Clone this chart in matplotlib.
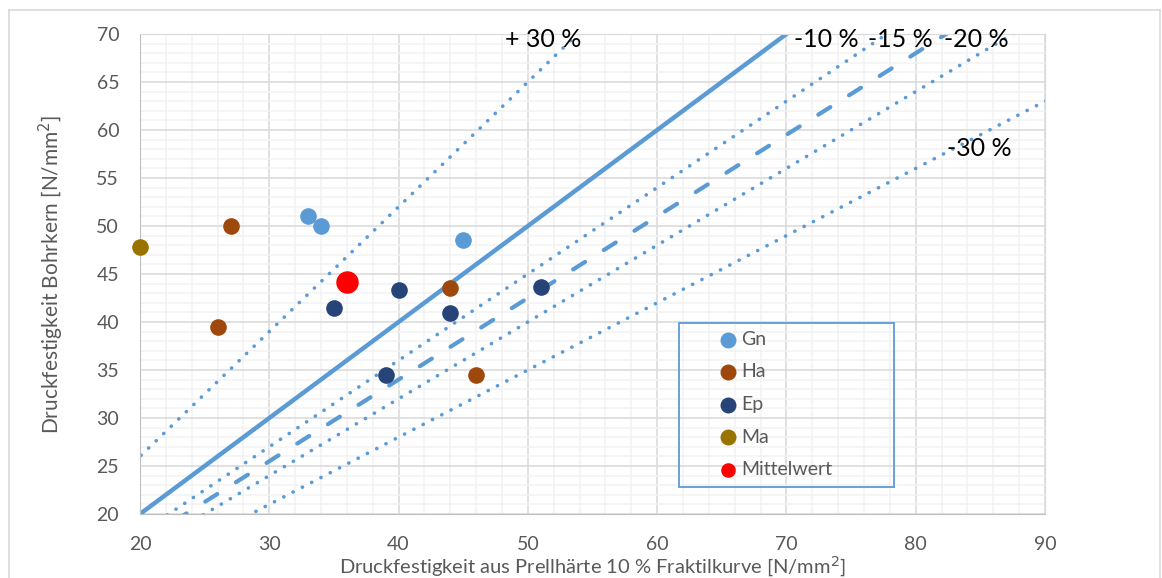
import numpy as np
import matplotlib.pyplot as plt
from matplotlib.patches import Rectangle
from matplotlib.lines import Line2D

plt.rcParams["font.family"] = ["Lato", "DejaVu Sans"]

# measured points (x: Prellhaerte 10 % Fraktil, y: Bohrkern)
gn_x = [33, 34, 45]
gn_y = [51.0, 50.0, 48.5]
ha_x = [27, 26, 44, 46]
ha_y = [50.0, 39.5, 43.5, 34.5]
ep_x = [35, 40, 44, 39, 51]
ep_y = [41.5, 43.3, 40.9, 34.5, 43.6]
ma_x = [20]
ma_y = [47.8]
mw_x = [36]
mw_y = [44.2]

# reference lines y = factor * x
line_factors = [1.3, 1.0, 0.9, 0.85, 0.8, 0.7]
line_styles = ["dot", "solid", "dot", "dash", "dot", "dot"]
line_x = [0, 100]

labels = ["+ 30 %", "-10 %", "-15 %", "-20 %", "-30 %"]
label_x = [48.2, 70.6, 76.3, 82.2, 82.4]
label_y = [69.4, 69.4, 69.4, 69.4, 58.1]

blue = "#5B9BD5"
grey_txt = "#595959"

fig = plt.figure(figsize=(11.62, 5.78), dpi=100)
ax = fig.add_axes([140 / 1162, 1 - 514 / 578, 905 / 1162, 480 / 578])

# outer chart frame (bottom is cut off in the original)
for xs, ys in [([9, 9], [578, 10]), ([9, 1160], [10, 10]), ([1160, 1160], [10, 578])]:
    fig.add_artist(Line2D([x / 1162 for x in xs], [1 - y / 578 for y in ys],
                          color="#D9D9D9", lw=1.2))

lx = np.array(line_x, dtype=float)
for f, st in zip(line_factors, line_styles):
    if st == "solid":
        ax.plot(lx, f * lx, color=blue, lw=3.2, solid_capstyle="butt", zorder=2)
    elif st == "dash":
        ax.plot(lx, f * lx, color=blue, lw=3.0, linestyle=(0, (3.4, 5.3)),
                dash_capstyle="round", zorder=2)
    else:
        ax.plot(lx, f * lx, color=blue, lw=2.6, linestyle=(0, (0.05, 2.85)),
                dash_capstyle="round", zorder=2)

ax.scatter(gn_x, gn_y, s=120, color="#5B9BD5", label="Gn", zorder=4, clip_on=False)
ax.scatter(ha_x, ha_y, s=120, color="#9E480E", label="Ha", zorder=4, clip_on=False)
ax.scatter(ep_x, ep_y, s=120, color="#264478", label="Ep", zorder=4, clip_on=False)
ax.scatter(ma_x, ma_y, s=120, color="#997300", label="Ma", zorder=4, clip_on=False)
ax.scatter(mw_x, mw_y, s=230, color="#FF0000", label="Mittelwert", zorder=5, clip_on=False)

for t, x, y in zip(labels, label_x, label_y):
    ax.text(x, y, t, fontsize=18, color="black", va="center", ha="left", zorder=6)

ax.set_xlim(20, 90)
ax.set_ylim(20, 70)
ax.set_xticks(np.arange(20, 91, 10))
ax.set_yticks(np.arange(20, 71, 5))
ax.set_xticks(np.arange(20, 91, 2), minor=True)
ax.set_yticks(np.arange(20, 71, 1), minor=True)
ax.grid(which="major", color="#D9D9D9", lw=1.1, zorder=0)
ax.grid(which="minor", color="#F2F2F2", lw=1.1, zorder=0)
ax.set_axisbelow(True)
ax.tick_params(which="both", length=0, labelsize=14, labelcolor=grey_txt)
ax.tick_params(axis="x", pad=16)
ax.tick_params(axis="y", pad=15)
for side in ["left", "bottom"]:
    ax.spines[side].set_color("#BFBFBF")
for side in ["top", "right"]:
    ax.spines[side].set_color("#D9D9D9")

ax.set_xlabel("Druckfestigkeit aus Prellhärte 10 % Fraktilkurve [N/mm$^2$]",
              fontsize=14.5, color=grey_txt, labelpad=1)
ax.set_ylabel("Druckfestigkeit Bohrkern [N/mm$^2$]", fontsize=15, color=grey_txt, labelpad=22)

# legend box
ax.add_patch(Rectangle((0.596, 0.056), 0.237, 0.342, transform=ax.transAxes,
                       fill=False, ec=blue, lw=1.3, zorder=6))
leg = ax.legend(loc="upper left", bbox_to_anchor=(0.617, 0.418), frameon=False,
                fontsize=14, labelcolor=grey_txt, handletextpad=0.1,
                labelspacing=0.8, handlelength=1.2)
for h in leg.legend_handles:
    h.set_sizes([110])
leg.legend_handles[-1].set_sizes([90])
leg.set_zorder(7)

fig.savefig("out.png", dpi=100)
